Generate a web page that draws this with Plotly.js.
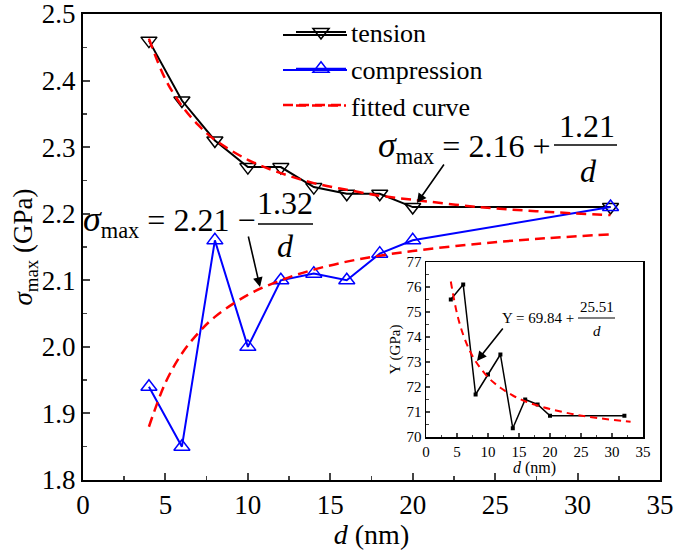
<!DOCTYPE html>
<html><head><meta charset="utf-8">
<script src="https://cdn.plot.ly/plotly-3.0.1.min.js"></script>
<style>body{margin:0;background:#fff}#c{width:675px;height:550px}</style>
</head><body><div id="c"></div>
<script>
// data
const d = [4, 6, 8, 10, 12, 14, 16, 18, 20, 32];
const tension = [2.46, 2.37, 2.31, 2.27, 2.27, 2.24, 2.23, 2.23, 2.21, 2.21];
const compression = [1.94, 1.85, 2.16, 2.00, 2.10, 2.11, 2.10, 2.14, 2.16, 2.21];
const fitD = [4, 5, 6, 7, 8, 10, 12, 14, 16, 18, 20, 24, 28, 32];
const fitTension = [2.463, 2.402, 2.362, 2.333, 2.311, 2.281, 2.261, 2.246, 2.236, 2.227, 2.221, 2.210, 2.203, 2.198];
const fitCompression = [1.880, 1.946, 1.990, 2.021, 2.045, 2.078, 2.100, 2.116, 2.128, 2.137, 2.144, 2.155, 2.163, 2.169];
const insetD = [4, 6, 8, 10, 12, 14, 16, 18, 20, 32];
const insetY = [75.5, 76.1, 71.7, 72.5, 73.3, 70.35, 71.5, 71.3, 70.85, 70.85];
const insetFitD = [4, 5, 6, 7, 8, 10, 12, 14, 16, 18, 20, 24, 28, 33];
const insetFitY = [76.22, 74.94, 74.09, 73.48, 73.03, 72.39, 71.97, 71.66, 71.43, 71.26, 71.12, 70.90, 70.75, 70.61];

const L = 83, R = 660, T = 14, B = 480;
const px = x => (x - L) / (R - L);
const py = y => (B - y) / (B - T);
const serif = 'Times New Roman, Liberation Serif, Tinos, DejaVu Serif, serif';

const traces = [
  {x: d, y: tension, name: 'tension', mode: 'lines+markers',
   line: {color: '#000', width: 2},
   marker: {symbol: 'triangle-down-open', size: 14, color: '#000', line: {width: 1.5}}},
  {x: d, y: compression, name: 'compression', mode: 'lines+markers',
   line: {color: '#0000ff', width: 2},
   marker: {symbol: 'triangle-up-open', size: 14, color: '#0000ff', line: {width: 1.5}}},
  {x: fitD, y: fitTension, name: 'fitted curve', mode: 'lines',
   line: {color: '#ff0000', width: 2.5, dash: '10px,6px', shape: 'spline'}},
  {x: fitD, y: fitCompression, name: 'fitted curve c', mode: 'lines', showlegend: false,
   line: {color: '#ff0000', width: 2.5, dash: '10px,6px', shape: 'spline'}},
  {x: insetD, y: insetY, xaxis: 'x2', yaxis: 'y2', mode: 'lines+markers', showlegend: false,
   line: {color: '#000', width: 1.5}, marker: {symbol: 'square', size: 4, color: '#000'}},
  {x: insetFitD, y: insetFitY, xaxis: 'x2', yaxis: 'y2', mode: 'lines', showlegend: false,
   line: {color: '#ff0000', width: 2, dash: '7px,5px', shape: 'spline'}}
];

const ann = [];
function txt(x, y, text, size, xa, ya) {
  ann.push({xref: 'paper', yref: 'paper', x: px(x), y: py(y), text: text, showarrow: false,
    xanchor: xa || 'center', yanchor: ya || 'middle', font: {family: serif, size: size, color: '#000'}});
}
function arrow(tx, ty, sx, sy) {
  ann.push({xref: 'paper', yref: 'paper', x: px(tx), y: py(ty), text: '', showarrow: true,
    ax: sx - tx, ay: sy - ty, arrowhead: 2, arrowsize: 1.2, arrowwidth: 1.6, arrowcolor: '#000'});
}
// tension equation
txt(552, 147, '<i><span style="font-size:36px">σ</span></i><sub>max</sub> = 2.16 +', 32, 'right');
txt(587, 126, '1.21', 32);
txt(588, 171, '<i>d</i>', 32);
// compression equation
txt(257, 221, '<i><span style="font-size:36px">σ</span></i><sub>max</sub> = 2.21 −', 32, 'right');
txt(285, 203, '1.32', 32);
txt(285, 246, '<i>d</i>', 32);
// inset equation
txt(576, 318, 'Y = 69.84 +', 15, 'right');
txt(597, 307, '25.51', 15);
txt(597, 331, '<i>d</i>', 15);
arrow(417, 203, 445, 163);
arrow(260, 287, 248, 235);
arrow(477, 361, 504, 327);

const shapes = [
  {type: 'line', xref: 'paper', yref: 'paper', x0: px(554), x1: px(617), y0: py(145), y1: py(145), line: {color: '#000', width: 1.5}},
  {type: 'line', xref: 'paper', yref: 'paper', x0: px(258), x1: px(313), y0: py(224), y1: py(224), line: {color: '#000', width: 1.5}},
  {type: 'line', xref: 'paper', yref: 'paper', x0: px(578), x1: px(615), y0: py(318), y1: py(318), line: {color: '#000', width: 1}},
  {type: 'rect', xref: 'paper', yref: 'paper', x0: px(426), x1: px(643), y0: py(437), y1: py(262), line: {width: 0}, fillcolor: '#fff', layer: 'below'},
  // legend line extensions
  {type: 'line', xref: 'paper', yref: 'paper', x0: px(283), x1: px(347), y0: py(35), y1: py(35), line: {color: '#000', width: 2}},
  {type: 'line', xref: 'paper', yref: 'paper', x0: px(283), x1: px(347), y0: py(70), y1: py(70), line: {color: '#0000ff', width: 2}},
  {type: 'line', xref: 'paper', yref: 'paper', x0: px(283), x1: px(347), y0: py(105), y1: py(105), line: {color: '#ff0000', width: 2.5, dash: '10px,6px'}}
];

const layout = {
  width: 675, height: 550,
  margin: {l: L, r: 675 - R, t: T, b: 550 - B, autoexpand: false},
  paper_bgcolor: '#fff', plot_bgcolor: 'rgba(0,0,0,0)',
  font: {family: serif, color: '#000'},
  showlegend: true,
  legend: {x: px(291), y: 1 - 8.5 / 550, yref: 'container', xanchor: 'left', yanchor: 'top', bgcolor: 'rgba(0,0,0,0)',
    font: {family: serif, size: 26, color: '#000'}, itemwidth: 50, tracegroupgap: 0},
  xaxis: {domain: [0, 1], range: [0, 35], dtick: 5, ticks: 'inside', ticklen: 7, tickwidth: 2,
    showline: true, linewidth: 2, linecolor: '#000', mirror: true, showgrid: false, zeroline: false,
    minor: {dtick: 2.5, ticks: 'inside', ticklen: 4, tickwidth: 1.5, showgrid: false},
    tickfont: {family: serif, size: 27, color: '#000'}, ticklabeloverflow: 'allow',
    title: {text: '<i>d</i> (nm)', font: {family: serif, size: 28, color: '#000'}, standoff: 4}},
  yaxis: {domain: [0, 1], range: [1.8, 2.5], dtick: 0.1, tickformat: '.1f', ticks: 'inside', ticklen: 7, tickwidth: 2,
    showline: true, linewidth: 2, linecolor: '#000', mirror: true, showgrid: false, zeroline: false,
    minor: {dtick: 0.05, ticks: 'inside', ticklen: 4, tickwidth: 1.5, showgrid: false},
    tickfont: {family: serif, size: 27, color: '#000'}, ticklabeloverflow: 'allow',
    title: {text: '<i>σ</i><sub>max</sub> (GPa)', font: {family: serif, size: 27, color: '#000'}, standoff: 0}},
  xaxis2: {domain: [px(426), px(643)], anchor: 'y2', range: [0, 35], dtick: 5, ticks: 'inside', ticklen: 4, tickwidth: 1.5,
    showline: true, linewidth: 1.5, linecolor: '#000', mirror: true, showgrid: false, zeroline: false,
    minor: {dtick: 2.5, ticks: 'inside', ticklen: 2.5, tickwidth: 1, showgrid: false},
    tickfont: {family: serif, size: 15, color: '#000'},
    title: {text: '<i>d</i> (nm)', font: {family: serif, size: 16, color: '#000'}, standoff: 2}},
  yaxis2: {domain: [py(437), py(262)], anchor: 'x2', range: [70, 77], dtick: 1, ticks: 'inside', ticklen: 4, tickwidth: 1.5,
    showline: true, linewidth: 1.5, linecolor: '#000', mirror: true, showgrid: false, zeroline: false,
    minor: {dtick: 0.5, ticks: 'inside', ticklen: 2.5, tickwidth: 1, showgrid: false},
    tickfont: {family: serif, size: 15, color: '#000'},
    title: {text: 'Y (GPa)', font: {family: serif, size: 15, color: '#000'}, standoff: 2}},
  annotations: ann,
  shapes: shapes
};
Plotly.newPlot('c', traces, layout, {displayModeBar: false, staticPlot: true});
</script></body></html>
